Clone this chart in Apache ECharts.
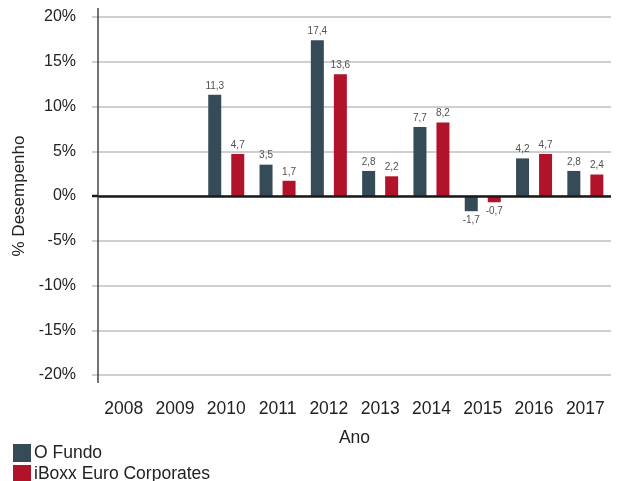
<!DOCTYPE html>
<html><head><meta charset="utf-8">
<script src="https://cdn.jsdelivr.net/npm/echarts@6/dist/echarts.min.js"></script>
<style>html,body{margin:0;padding:0;background:#fff}#c{width:618px;height:481px}</style>
</head><body><div id="c"></div>
<script>
const categories = ['2008','2009','2010','2011','2012','2013','2014','2015','2016','2017'];
const fundo = [null, null, 11.3, 3.5, 17.4, 2.8, 7.7, -1.7, 4.2, 2.8];
const iboxx = [null, null, 4.7, 1.7, 13.6, 2.2, 8.2, -0.7, 4.7, 2.4];
const seriesNames = ['O Fundo', 'iBoxx Euro Corporates'];
const yTicks = [-20, -15, -10, -5, 0, 5, 10, 15, 20];

const FONT = '"Liberation Sans", Arial, sans-serif';
const chart = echarts.init(document.getElementById('c'), null, {renderer: 'canvas'});
const lbl = {
  show: true, position: 'top', distance: 4, fontSize: 10, color: '#505050', fontFamily: FONT,
  formatter: p => p.value == null ? '' : String(p.value.toFixed(1)).replace('.', ',')
};
function mkSeries(name, data, color) {
  return {
    name, type: 'bar', barWidth: 13, barGap: '77%',
    itemStyle: {color},
    label: Object.assign({}, lbl),
    data: data.map(v => v != null && v < 0 ? {value: v, label: {position: 'bottom'}} : v)
  };
}
const s1 = mkSeries(seriesNames[0], fundo, '#354b57');
const s2 = mkSeries(seriesNames[1], iboxx, '#b0132a');
const legendBase = {
  orient: 'vertical', left: 13, itemWidth: 18, itemHeight: 18,
  icon: 'rect', textStyle: {fontSize: 17.5, color: '#222', fontFamily: FONT, padding: [0,0,0,-2]},
  padding: 0
};
chart.setOption({
  animation: false,
  grid: {left: 98, right: 7, top: 17, bottom: 106, containLabel: false},
  legend: [
    Object.assign({}, legendBase, {top: 444, data: [seriesNames[0]]}),
    Object.assign({}, legendBase, {top: 465, data: [seriesNames[1]]})
  ],
  xAxis: {
    type: 'category', data: categories,
    axisLine: {show: false}, axisTick: {show: false},
    axisLabel: {color: '#222', fontSize: 17.5, fontFamily: FONT, margin: 25},
    name: 'Ano', nameLocation: 'middle', nameGap: 54,
    nameTextStyle: {color: '#222', fontSize: 17.5, fontFamily: FONT}
  },
  yAxis: {
    type: 'value', min: -20, max: 20, interval: 5,
    axisLine: {show: false},
    axisTick: {show: true, length: 6, lineStyle: {color: '#cfcfcf', width: 2}},
    splitLine: {lineStyle: {color: '#cfcfcf', width: 2}},
    axisLabel: {color: '#222', fontSize: 16, fontFamily: FONT, margin: 22,
      formatter: v => yTicks.includes(v) ? v + '%' : ''},
    name: '% Desempenho', nameLocation: 'middle', nameGap: 70, nameRotate: 90,
    nameTextStyle: {color: '#222', fontSize: 17, fontFamily: FONT}
  },
  series: [s1, s2,
    {type: 'line', data: [], markLine: {silent: true, symbol: 'none', label: {show: false},
      lineStyle: {color: '#1a1a1a', width: 2.5, type: 'solid'}, data: [{yAxis: 0}]}}]
});
function drawAxis() {
  const top = chart.convertToPixel({yAxisIndex: 0}, 20);
  const bot = chart.convertToPixel({yAxisIndex: 0}, -20);
  const zero = chart.convertToPixel({yAxisIndex: 0}, 0);
  chart.setOption({graphic: [
    {type: 'line', shape: {x1: 98, y1: top - 9, x2: 98, y2: bot + 8}, style: {stroke: '#444', lineWidth: 1.5}, z: 10},
    {type: 'line', shape: {x1: 92, y1: zero, x2: 98, y2: zero}, style: {stroke: '#1a1a1a', lineWidth: 2.5}, z: 10}
  ]});
}
drawAxis();
</script></body></html>
